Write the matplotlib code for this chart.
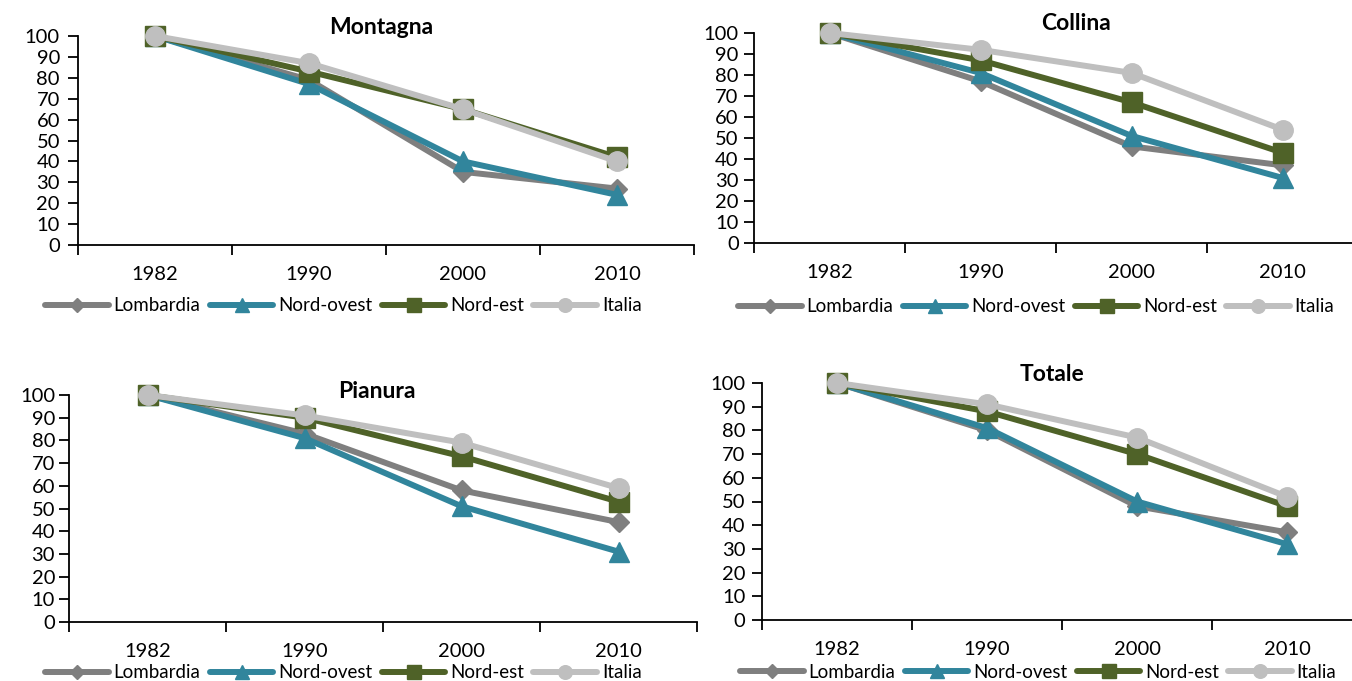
import matplotlib
matplotlib.use("Agg")
import matplotlib.pyplot as plt

plt.rcParams["font.family"] = ["Lato", "DejaVu Sans"]

# ---------------------------------------------------------------------------
# Data (index 1982 = 100)
# ---------------------------------------------------------------------------
years = ["1982", "1990", "2000", "2010"]
series = ["Lombardia", "Nord-ovest", "Nord-est", "Italia"]

montagna = [
    [100, 79, 35, 27],   # Lombardia
    [100, 77, 40, 24],   # Nord-ovest
    [100, 83, 65, 42],   # Nord-est
    [100, 87, 65, 40],   # Italia
]
collina = [
    [100, 77, 46, 37],
    [100, 81, 51, 31],
    [100, 87, 67, 43],
    [100, 92, 81, 54],
]
pianura = [
    [100, 83, 58, 44],
    [100, 81, 51, 31],
    [100, 90, 73, 53],
    [100, 91, 79, 59],
]
totale = [
    [100, 80, 48, 37],
    [100, 81, 50, 32],
    [100, 88, 70, 48],
    [100, 91, 77, 52],
]
titles = ["Montagna", "Collina", "Pianura", "Totale"]

# ---------------------------------------------------------------------------
# Styles
# ---------------------------------------------------------------------------
COLORS = ["#7f7f7f", "#31859c", "#4f6228", "#bfbfbf"]
MARKERS = ["D", "^", "s", "o"]
MSIZES = [10, 14, 14, 14]

W, H = 1352, 681
fig = plt.figure(figsize=(W / 100, H / 100), dpi=100)


def px_axes(left, right, top, bottom):
    return fig.add_axes([left / W, 1 - bottom / H, (right - left) / W, (bottom - top) / H])


# (left, right, top, bottom) in pixels, title (x, y), legend (x, y), y-label pad
panels = [
    (montagna, (78, 694, 36, 245), (381, 27), (45, 306), 6),
    (collina, (754, 1358, 33, 243), (1076, 23), (738, 307), 4),
    (pianura, (69, 697, 395, 622), (377, 391), (45, 673), 3),
    (totale, (762, 1362, 383, 620), (1052, 375), (740, 672), 5),
]

x = list(range(len(years)))
for (data, box, tpos, lpos, pad), title in zip(panels, titles):
    ax = px_axes(*box)
    for vals, name, c, m, ms in zip(data, series, COLORS, MARKERS, MSIZES):
        ax.plot(x, vals, color=c, lw=4.3, marker=m, ms=ms, mfc=c, mec=c,
                label=name, clip_on=False, solid_capstyle="round")
    ax.set_xlim(-0.5, len(years) - 0.5)
    ax.set_ylim(0, 100)
    ax.set_yticks(range(0, 101, 10))
    ax.set_xticks([i - 0.5 for i in range(len(years) + 1)])
    ax.set_xticklabels([])
    ax.set_xticks(x, minor=True)
    ax.set_xticklabels(years, minor=True)
    ax.tick_params(axis="x", which="major", direction="out", length=7, width=1.3)
    ax.tick_params(axis="x", which="minor", length=0, pad=15, labelsize=14.5)
    ax.tick_params(axis="y", direction="out", length=7, width=1.3, pad=pad, labelsize=14.5)
    for s in ("top", "right"):
        ax.spines[s].set_visible(False)
    for s in ("left", "bottom"):
        ax.spines[s].set_linewidth(1.3)
    fig.text(tpos[0] / W, 1 - tpos[1] / H, title, ha="center", va="center",
             fontsize=16.5, fontweight="bold")
    ax.legend(loc="center left", bbox_to_anchor=(lpos[0] / W, 1 - lpos[1] / H),
              bbox_transform=fig.transFigure, ncol=4, frameon=False,
              handlelength=3.4, handletextpad=0.25, columnspacing=0.5,
              borderpad=0, borderaxespad=0, markerscale=0.7, fontsize=13.5)

fig.savefig("out.png", dpi=100)
